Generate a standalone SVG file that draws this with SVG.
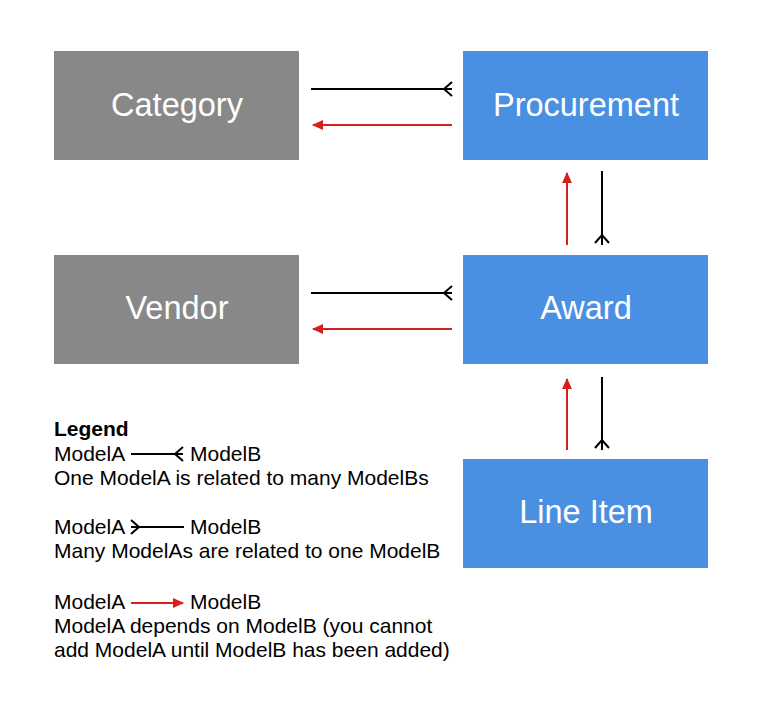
<svg xmlns="http://www.w3.org/2000/svg" width="762" height="712" viewBox="0 0 762 712">
<style>
.gray{fill:#888888}
.blue{fill:#4a90e2}
.lbl{font-family:"Liberation Sans",Arial,sans-serif;font-size:32.5px;fill:#ffffff;text-anchor:middle}
.leg{font-family:"Liberation Sans",Arial,sans-serif;font-size:21px;fill:#000000}
.blk{stroke:#000;stroke-width:2;fill:none}
.red{stroke:#d62020;stroke-width:2;fill:none}
</style>
<defs>
<marker id="ah" markerWidth="12" markerHeight="12" refX="10" refY="6" orient="auto" markerUnits="userSpaceOnUse">
<path d="M0,1 L11,6 L0,11 z" fill="#d62020"/>
</marker>
</defs>
<rect width="762" height="712" fill="#ffffff"/>
<g id="category"><rect class="gray" x="54" y="51" width="245" height="109"/><text class="lbl" x="177" y="116">Category</text></g>
<g id="procurement"><rect class="blue" x="463" y="51" width="245" height="109"/><text class="lbl" x="586" y="116">Procurement</text></g>
<g id="vendor"><rect class="gray" x="54" y="255" width="245" height="109"/><text class="lbl" x="177" y="319">Vendor</text></g>
<g id="award"><rect class="blue" x="463" y="255" width="245" height="109"/><text class="lbl" x="586" y="319">Award</text></g>
<g id="lineitem"><rect class="blue" x="463" y="459" width="245" height="109"/><text class="lbl" x="586" y="523">Line Item</text></g>
<g id="connectors">
<path class="blk" d="M311,89 H452 M452,82 L444,89 L452,96"/>
<path class="red" d="M452,125 H313" marker-end="url(#ah)"/>
<path class="blk" d="M311,293 H452 M452,286 L444,293 L452,300"/>
<path class="red" d="M452,329 H313" marker-end="url(#ah)"/>
<path class="red" d="M567,245 V173" marker-end="url(#ah)"/>
<path class="blk" d="M602,171 V245 M595,243 L602,235 L609,243"/>
<path class="red" d="M567,450 V379" marker-end="url(#ah)"/>
<path class="blk" d="M602,377 V450 M595,448 L602,440 L609,448"/>
</g>
<g id="legend">
<text class="leg" x="54" y="436" font-weight="bold">Legend</text>
<text class="leg" x="54" y="461">ModelA</text>
<path class="blk" d="M131,454 H183 M183,447 L175,454 L183,461"/>
<text class="leg" x="190" y="461">ModelB</text>
<text class="leg" x="54" y="485">One ModelA is related to many ModelBs</text>
<text class="leg" x="54" y="534">ModelA</text>
<path class="blk" d="M131,527 H184 M131,520 L139,527 L131,534"/>
<text class="leg" x="190" y="534">ModelB</text>
<text class="leg" x="54" y="558">Many ModelAs are related to one ModelB</text>
<text class="leg" x="54" y="609">ModelA</text>
<path class="red" d="M131,603 H183" marker-end="url(#ah)"/>
<text class="leg" x="190" y="609">ModelB</text>
<text class="leg" x="54" y="633">ModelA depends on ModelB (you cannot</text>
<text class="leg" x="54" y="657">add ModelA until ModelB has been added)</text>
</g>
</svg>
